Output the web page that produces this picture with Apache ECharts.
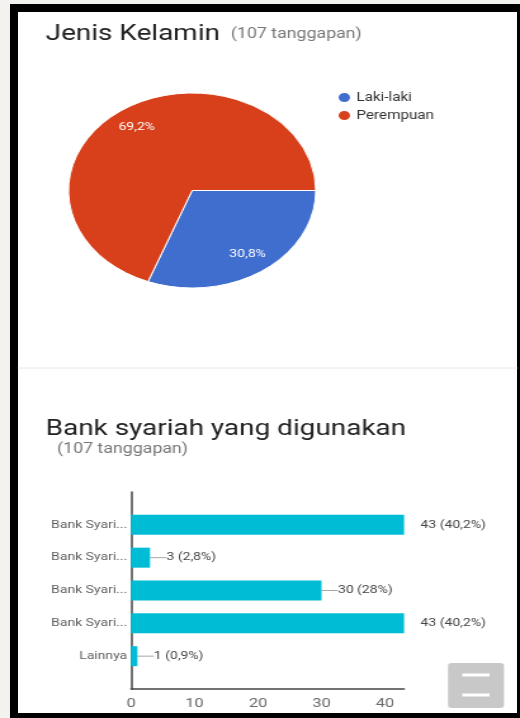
<!DOCTYPE html>
<html>
<head>
<meta charset="utf-8">
<script src="https://cdn.jsdelivr.net/npm/echarts@6/dist/echarts.min.js"></script>
<style>
  html, body { margin: 0; padding: 0; width: 520px; height: 718px; overflow: hidden; background: #f4f2ef; }
  #frame { position: absolute; left: 10px; top: 4px; width: 499px; height: 701px; background: #ffffff;
           border-left: 8px solid #000; border-top: 8px solid #000; border-right: 3px solid #000; border-bottom: 5px solid #000; }
  #chart { position: absolute; left: 0; top: 0; width: 410px; height: 718px; transform: scaleX(1.26829); transform-origin: 0 0; }
</style>
</head>
<body>
<div id="frame"></div>
<div id="chart"></div>
<script>
// ---- data ----
const genderNames = ['Laki-laki', 'Perempuan'];
const genderShares = [30.8, 69.2];
const bankCategories = ['Bank Syari...', 'Bank Syari...', 'Bank Syari...', 'Bank Syari...', 'Lainnya'];
const bankCounts = [43, 3, 30, 43, 1];
const bankPercents = ['40,2%', '2,8%', '28%', '40,2%', '0,9%'];
const xTickValues = [0, 10, 20, 30, 40];
const titleGender = 'Jenis Kelamin';
const titleBank = 'Bank syariah yang digunakan';
const responses = '(107 tanggapan)';

const chart = echarts.init(document.getElementById('chart'));
const FONT = 'Roboto';
const axisMax = Math.max(...bankCounts);
const pieData = genderNames.map((n, i) => ({ name: n, value: genderShares[i] }));
const R = 97.5;

const option = {
  animation: false,
  color: ['#3f6ecf', '#d7401b'],
  textStyle: { fontFamily: FONT },
  title: [
    { text: titleGender, left: 36, top: 23, padding: 0,
      textStyle: { fontFamily: FONT, fontSize: 22, fontWeight: 'normal', color: '#212121' } },
    { text: responses, left: 182, top: 27, padding: 0,
      textStyle: { fontFamily: FONT, fontSize: 14, fontWeight: 'normal', color: '#777777' } },
    { text: titleBank, left: 36, top: 418, padding: 0,
      textStyle: { fontFamily: FONT, fontSize: 22, fontWeight: 'normal', color: '#212121' } },
    { text: responses, left: 45, top: 442, padding: 0,
      textStyle: { fontFamily: FONT, fontSize: 14, fontWeight: 'normal', color: '#777777' } }
  ],
  legend: {
    data: genderNames, orient: 'vertical', left: 265, top: 91, padding: 0,
    icon: 'circle', itemWidth: 11, itemHeight: 11, itemGap: 5,
    textStyle: { fontFamily: FONT, fontSize: 12, color: '#333333', padding: [0, 0, 0, -1] }
  },
  grid: { left: 103.3, top: 492, width: 215.3, height: 197, containLabel: false },
  xAxis: {
    type: 'value', min: 0, max: axisMax, interval: 10,
    axisLine: { show: true, lineStyle: { color: '#444444', width: 1.5 } },
    axisTick: { show: false },
    splitLine: { show: false },
    axisLabel: { showMaxLabel: false, margin: 8, fontFamily: FONT, fontSize: 13, color: '#6a6a6a',
      formatter: v => (xTickValues.indexOf(v) >= 0 ? String(v) : '') }
  },
  yAxis: {
    type: 'category', data: bankCategories, inverse: true, boundaryGap: false, min: -1, max: bankCategories.length,
    axisLine: { show: true, lineStyle: { color: '#444444', width: 1.5 } },
    axisTick: { show: false },
    axisLabel: { margin: 3, fontFamily: FONT, fontSize: 11, color: '#5f5f5f',
      formatter: v => (v === undefined || v === null ? '' : v) }
  },
  series: [
    {
      type: 'pie', center: [151.5, 190.5], radius: [0, R], startAngle: 0, clockwise: true,
      data: pieData, label: { show: false }, labelLine: { show: false },
      itemStyle: { borderColor: '#ffffff', borderWidth: 1 }, emphasis: { disabled: true }
    },
    {
      type: 'pie', center: [151.5, 190.5], radius: [R * 0.52, R], startAngle: 0, clockwise: true,
      data: pieData, silent: true, legendHoverLink: false,
      itemStyle: { color: 'rgba(0,0,0,0)' },
      label: { show: true, position: 'inside', fontFamily: FONT, fontSize: 11, color: '#ffffff',
        formatter: p => String(p.value).replace('.', ',') + '%' },
      labelLine: { show: false }, emphasis: { disabled: true }
    },
    {
      type: 'bar', data: bankCounts.map(v => ({ value: v, labelLine: { show: v < axisMax } })),
      barWidth: 20, itemStyle: { color: '#00bcd4' },
      label: { show: true, position: 'right', distance: 2, fontFamily: FONT, fontSize: 11, color: '#444444',
        formatter: p => p.value + ' (' + bankPercents[p.dataIndex] + ')' },
      labelLayout: { dx: 11 },
      labelLine: { show: true, lineStyle: { color: '#a8a8a8', width: 1 } },
      emphasis: { disabled: true }
    }
  ],
  graphic: [
    { type: 'line', shape: { x1: 14.2, y1: 368, x2: 408, y2: 368 }, style: { stroke: '#e6e6e6', lineWidth: 1 }, silent: true },
    { type: 'rect', shape: { x: 353.2, y: 663, width: 44.2, height: 45, r: 3 }, style: { fill: '#c8c8c8' }, silent: true },
    { type: 'rect', shape: { x: 364.5, y: 673.5, width: 21.5, height: 3 }, style: { fill: '#ffffff' }, silent: true },
    { type: 'rect', shape: { x: 364.5, y: 693.5, width: 21.5, height: 3 }, style: { fill: '#ffffff' }, silent: true }
  ]
};
chart.setOption(option);
</script>
</body>
</html>
